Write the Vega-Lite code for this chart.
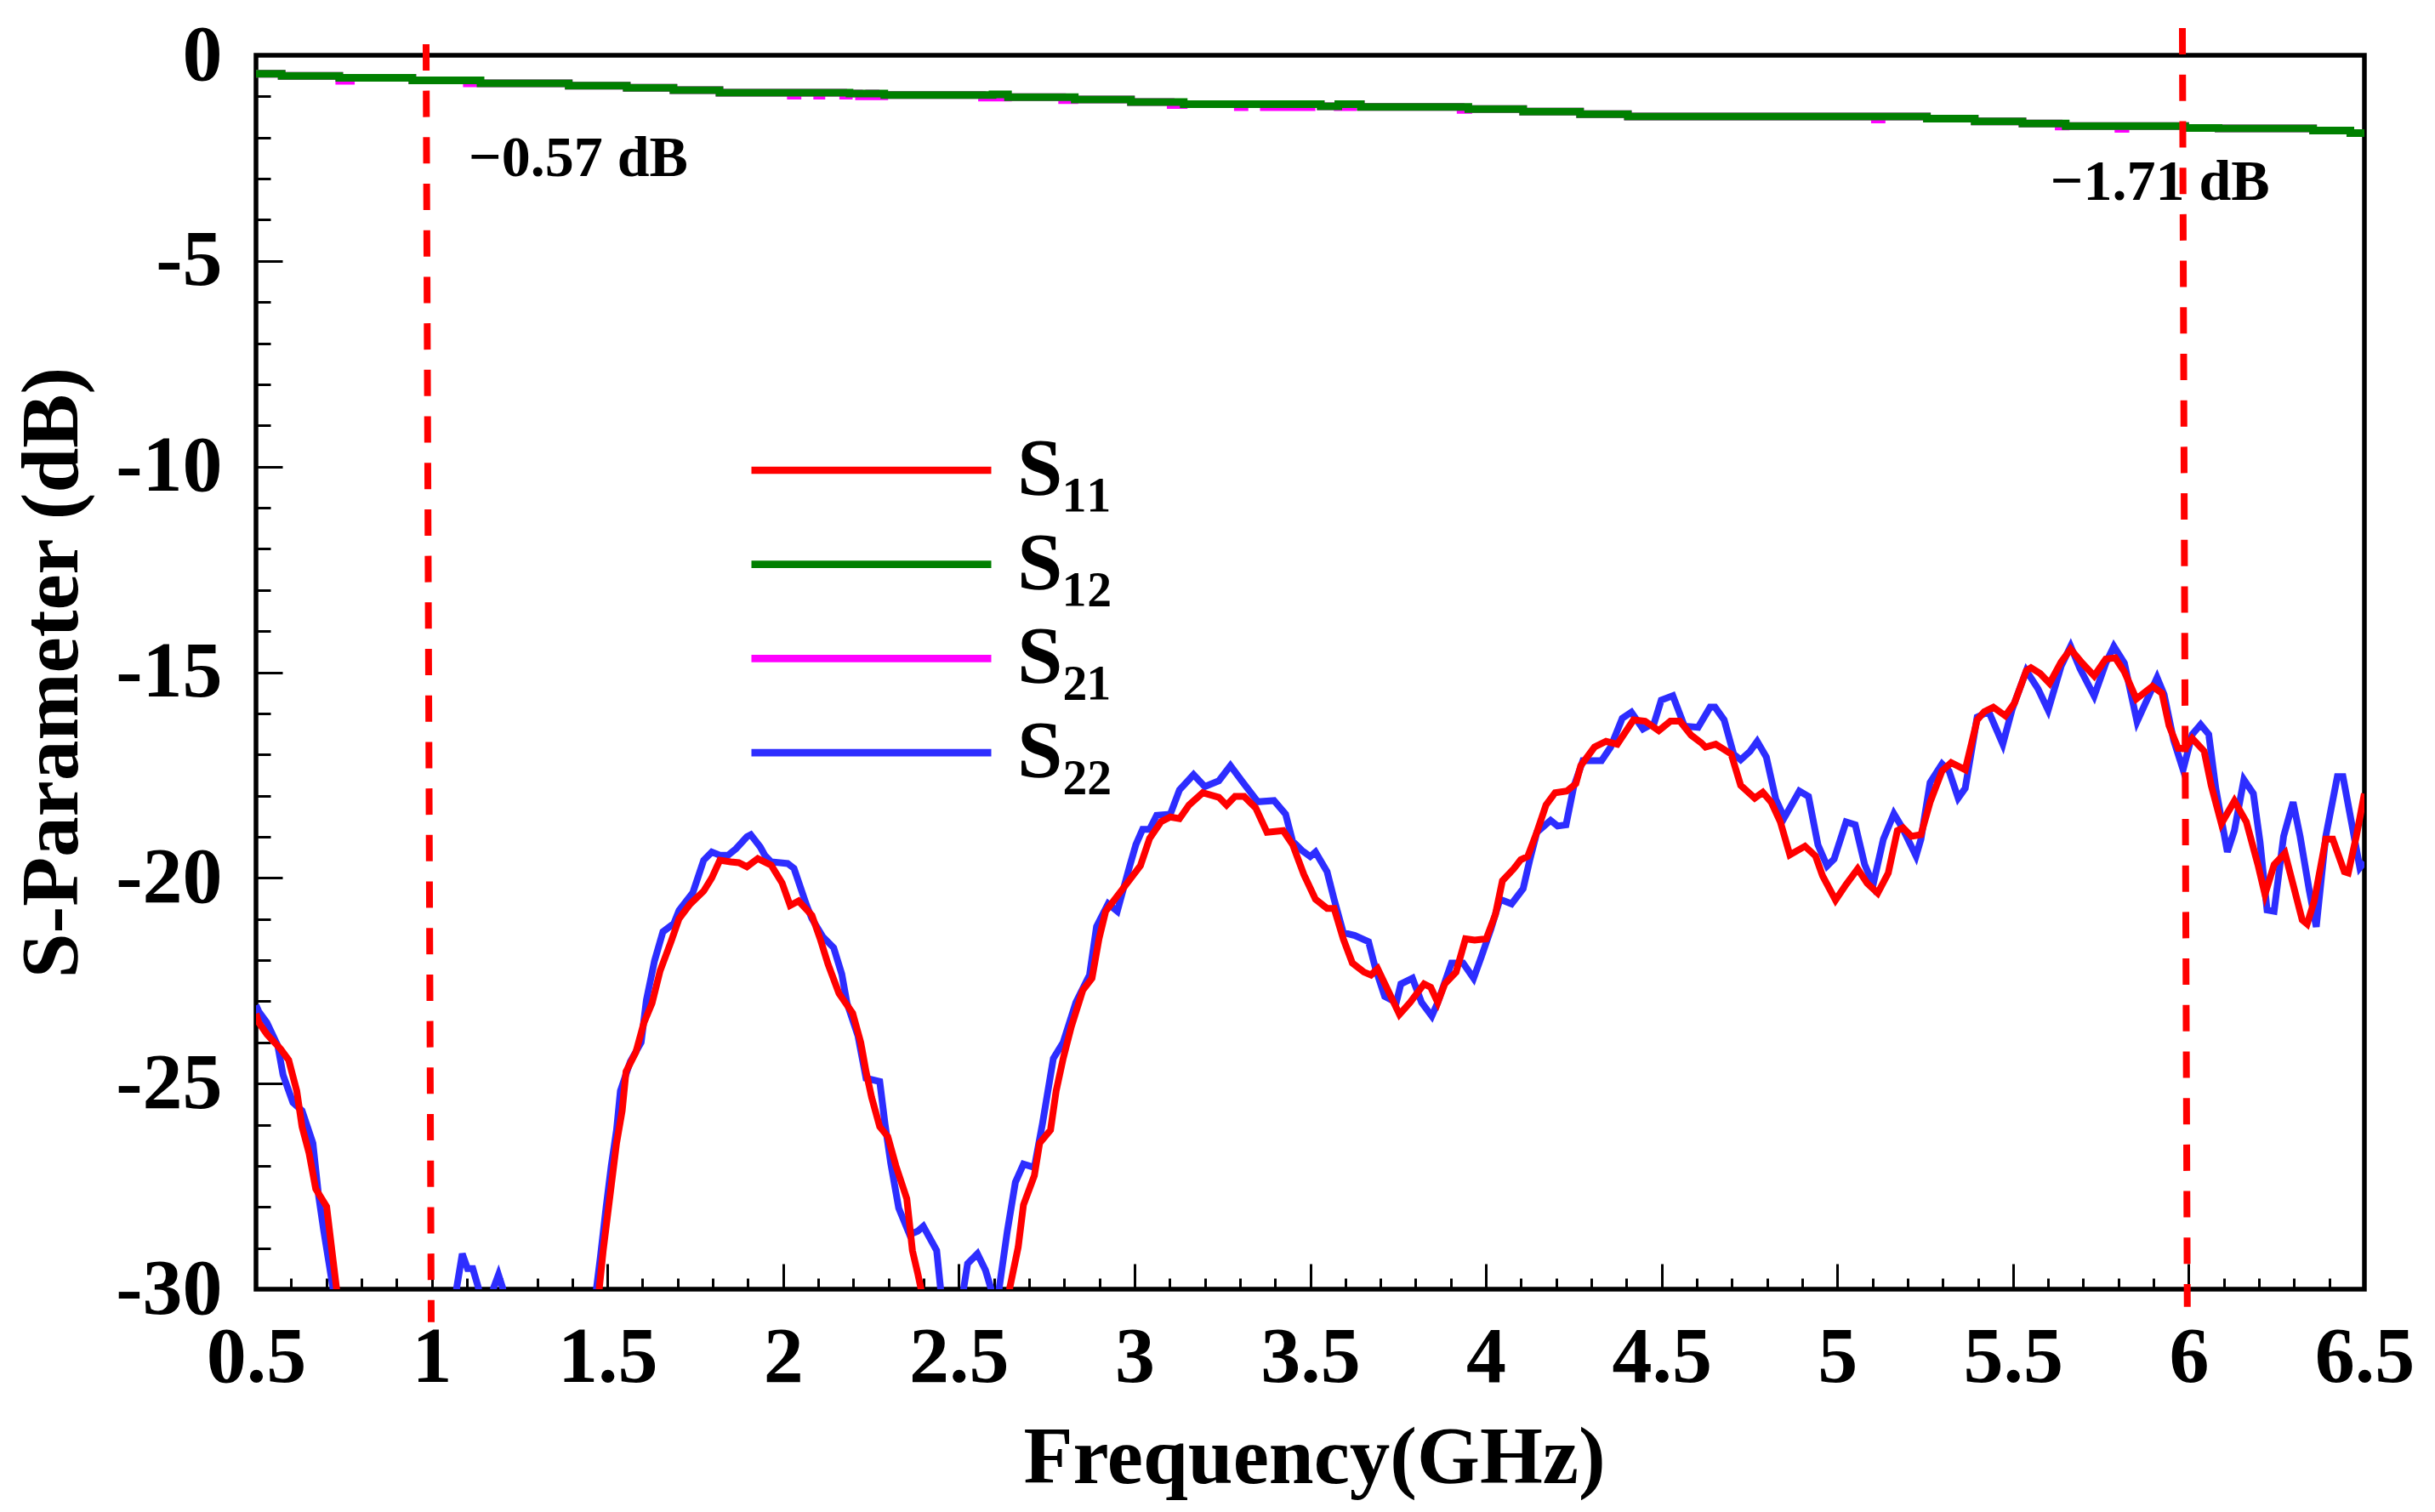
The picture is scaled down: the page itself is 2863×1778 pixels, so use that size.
{
  "$schema": "https://vega.github.io/schema/vega-lite/v6.json",
  "description": "S-parameters against frequency with markers at 1 GHz and 6 GHz.",
  "width": 2479,
  "height": 1451,
  "autosize": {"type": "none"},
  "padding": {"left": 301, "top": 65, "right": 83, "bottom": 262},
  "background": "white",
  "datasets": {
    "steps": [
      {"series":"S₂₁","f":0.5,"db":-0.45},{"series":"S₂₁","f":0.573,"db":-0.5},{"series":"S₂₁","f":0.737,"db":-0.62},{"series":"S₂₁","f":0.77,"db":-0.55},{"series":"S₂₁","f":0.945,"db":-0.61},{"series":"S₂₁","f":1.1,"db":-0.68},{"series":"S₂₁","f":1.39,"db":-0.74},{"series":"S₂₁","f":1.555,"db":-0.79},{"series":"S₂₁","f":1.688,"db":-0.85},{"series":"S₂₁","f":1.819,"db":-0.91},{"series":"S₂₁","f":2.022,"db":-0.98},{"series":"S₂₁","f":2.041,"db":-0.91},{"series":"S₂₁","f":2.097,"db":-0.98},{"series":"S₂₁","f":2.109,"db":-0.91},{"series":"S₂₁","f":2.171,"db":-0.98},{"series":"S₂₁","f":2.187,"db":-0.93},{"series":"S₂₁","f":2.216,"db":-1.0},{"series":"S₂₁","f":2.245,"db":-0.93},{"series":"S₂₁","f":2.263,"db":-1.0},{"series":"S₂₁","f":2.288,"db":-0.965},{"series":"S₂₁","f":2.566,"db":-1.03},{"series":"S₂₁","f":2.64,"db":-1.02},{"series":"S₂₁","f":2.794,"db":-1.09},{"series":"S₂₁","f":2.829,"db":-1.075},{"series":"S₂₁","f":2.99,"db":-1.137},{"series":"S₂₁","f":3.103,"db":-1.21},{"series":"S₂₁","f":3.14,"db":-1.19},{"series":"S₂₁","f":3.294,"db":-1.26},{"series":"S₂₁","f":3.313,"db":-1.19},{"series":"S₂₁","f":3.368,"db":-1.26},{"series":"S₂₁","f":3.387,"db":-1.19},{"series":"S₂₁","f":3.405,"db":-1.26},{"series":"S₂₁","f":3.504,"db":-1.19},{"series":"S₂₁","f":3.53,"db":-1.24},{"series":"S₂₁","f":3.578,"db":-1.26},{"series":"S₂₁","f":3.621,"db":-1.19},{"series":"S₂₁","f":3.644,"db":-1.255},{"series":"S₂₁","f":3.928,"db":-1.33},{"series":"S₂₁","f":3.95,"db":-1.31},{"series":"S₂₁","f":4.106,"db":-1.37},{"series":"S₂₁","f":4.268,"db":-1.43},{"series":"S₂₁","f":4.404,"db":-1.49},{"series":"S₂₁","f":5.107,"db":-1.56},{"series":"S₂₁","f":5.126,"db":-1.49},{"series":"S₂₁","f":5.255,"db":-1.54},{"series":"S₂₁","f":5.391,"db":-1.61},{"series":"S₂₁","f":5.527,"db":-1.66},{"series":"S₂₁","f":5.63,"db":-1.73},{"series":"S₂₁","f":5.65,"db":-1.72},{"series":"S₂₁","f":5.8,"db":-1.79},{"series":"S₂₁","f":5.82,"db":-1.72},{"series":"S₂₁","f":5.99,"db":-1.77},{"series":"S₂₁","f":6.085,"db":-1.78},{"series":"S₂₁","f":6.354,"db":-1.83},{"series":"S₂₁","f":6.46,"db":-1.89},{"series":"S₂₁","f":6.5,"db":-1.89},
      {"series":"S₁₂","f":0.5,"db":-0.45},{"series":"S₁₂","f":0.573,"db":-0.5},{"series":"S₁₂","f":0.737,"db":-0.55},{"series":"S₁₂","f":0.945,"db":-0.61},{"series":"S₁₂","f":1.139,"db":-0.68},{"series":"S₁₂","f":1.39,"db":-0.74},{"series":"S₁₂","f":1.555,"db":-0.79},{"series":"S₁₂","f":1.688,"db":-0.85},{"series":"S₁₂","f":1.819,"db":-0.91},{"series":"S₁₂","f":2.189,"db":-0.93},{"series":"S₁₂","f":2.288,"db":-0.965},{"series":"S₁₂","f":2.596,"db":-0.95},{"series":"S₁₂","f":2.64,"db":-1.02},{"series":"S₁₂","f":2.83,"db":-1.075},{"series":"S₁₂","f":2.99,"db":-1.137},{"series":"S₁₂","f":3.14,"db":-1.19},{"series":"S₁₂","f":3.53,"db":-1.24},{"series":"S₁₂","f":3.58,"db":-1.19},{"series":"S₁₂","f":3.644,"db":-1.255},{"series":"S₁₂","f":3.95,"db":-1.31},{"series":"S₁₂","f":4.106,"db":-1.37},{"series":"S₁₂","f":4.268,"db":-1.43},{"series":"S₁₂","f":4.404,"db":-1.49},{"series":"S₁₂","f":5.255,"db":-1.54},{"series":"S₁₂","f":5.391,"db":-1.61},{"series":"S₁₂","f":5.527,"db":-1.66},{"series":"S₁₂","f":5.65,"db":-1.72},{"series":"S₁₂","f":5.99,"db":-1.77},{"series":"S₁₂","f":6.085,"db":-1.78},{"series":"S₁₂","f":6.354,"db":-1.83},{"series":"S₁₂","f":6.46,"db":-1.89},{"series":"S₁₂","f":6.5,"db":-1.89}
    ],
    "curves": [
      {"series":"S₂₂","f":0.5,"db":-23.1},{"series":"S₂₂","f":0.508,"db":-23.25},{"series":"S₂₂","f":0.531,"db":-23.52},{"series":"S₂₂","f":0.562,"db":-24.08},{"series":"S₂₂","f":0.577,"db":-24.79},{"series":"S₂₂","f":0.605,"db":-25.46},{"series":"S₂₂","f":0.631,"db":-25.66},{"series":"S₂₂","f":0.662,"db":-26.45},{"series":"S₂₂","f":0.678,"db":-27.72},{"series":"S₂₂","f":0.693,"db":-28.59},{"series":"S₂₂","f":0.708,"db":-29.38},{"series":"S₂₂","f":0.719,"db":-29.97},{"series":"S₂₂","f":0.74,"db":-33},{"series":"S₂₂","f":1.05,"db":-33},
      {"series":"S₂₂","f":1.071,"db":-29.97},{"series":"S₂₂","f":1.087,"db":-29.14},{"series":"S₂₂","f":1.102,"db":-29.5},{"series":"S₂₂","f":1.117,"db":-29.5},{"series":"S₂₂","f":1.133,"db":-29.97},{"series":"S₂₂","f":1.14,"db":-31},{"series":"S₂₂","f":1.17,"db":-31},{"series":"S₂₂","f":1.176,"db":-29.97},{"series":"S₂₂","f":1.19,"db":-29.65},{"series":"S₂₂","f":1.202,"db":-29.97},{"series":"S₂₂","f":1.22,"db":-33},{"series":"S₂₂","f":1.45,"db":-33},
      {"series":"S₂₂","f":1.469,"db":-29.97},{"series":"S₂₂","f":1.48,"db":-29.22},{"series":"S₂₂","f":1.496,"db":-28.03},{"series":"S₂₂","f":1.511,"db":-27.0},{"series":"S₂₂","f":1.526,"db":-26.13},{"series":"S₂₂","f":1.537,"db":-25.18},{"series":"S₂₂","f":1.565,"db":-24.47},{"series":"S₂₂","f":1.596,"db":-24.0},{"series":"S₂₂","f":1.611,"db":-22.97},{"series":"S₂₂","f":1.634,"db":-22.02},{"series":"S₂₂","f":1.658,"db":-21.31},{"series":"S₂₂","f":1.689,"db":-21.11},{"series":"S₂₂","f":1.704,"db":-20.79},{"series":"S₂₂","f":1.743,"db":-20.36},{"series":"S₂₂","f":1.774,"db":-19.57},{"series":"S₂₂","f":1.797,"db":-19.37},{"series":"S₂₂","f":1.82,"db":-19.45},{"series":"S₂₂","f":1.843,"db":-19.45},{"series":"S₂₂","f":1.866,"db":-19.29},{"series":"S₂₂","f":1.897,"db":-19.0},{"series":"S₂₂","f":1.908,"db":-18.95},{"series":"S₂₂","f":1.935,"db":-19.25},{"series":"S₂₂","f":1.948,"db":-19.45},{"series":"S₂₂","f":1.966,"db":-19.61},{"series":"S₂₂","f":2.013,"db":-19.65},{"series":"S₂₂","f":2.031,"db":-19.77},{"series":"S₂₂","f":2.067,"db":-20.67},{"series":"S₂₂","f":2.082,"db":-20.99},{"series":"S₂₂","f":2.113,"db":-21.43},{"series":"S₂₂","f":2.144,"db":-21.7},{"series":"S₂₂","f":2.167,"db":-22.34},{"series":"S₂₂","f":2.182,"db":-23.05},{"series":"S₂₂","f":2.213,"db":-23.84},{"series":"S₂₂","f":2.236,"db":-24.87},{"series":"S₂₂","f":2.275,"db":-24.95},{"series":"S₂₂","f":2.29,"db":-25.98},{"series":"S₂₂","f":2.306,"db":-26.92},{"series":"S₂₂","f":2.329,"db":-28.03},{"series":"S₂₂","f":2.36,"db":-28.67},{"series":"S₂₂","f":2.383,"db":-28.59},{"series":"S₂₂","f":2.399,"db":-28.47},{"series":"S₂₂","f":2.437,"db":-29.06},{"series":"S₂₂","f":2.448,"db":-29.97},{"series":"S₂₂","f":2.46,"db":-33},{"series":"S₂₂","f":2.5,"db":-33},
      {"series":"S₂₂","f":2.514,"db":-29.97},{"series":"S₂₂","f":2.525,"db":-29.38},{"series":"S₂₂","f":2.553,"db":-29.14},{"series":"S₂₂","f":2.576,"db":-29.54},{"series":"S₂₂","f":2.591,"db":-29.97},{"series":"S₂₂","f":2.6,"db":-31},{"series":"S₂₂","f":2.61,"db":-31},{"series":"S₂₂","f":2.615,"db":-29.97},{"series":"S₂₂","f":2.638,"db":-28.59},{"series":"S₂₂","f":2.661,"db":-27.4},{"series":"S₂₂","f":2.684,"db":-26.96},{"series":"S₂₂","f":2.715,"db":-27.04},{"series":"S₂₂","f":2.738,"db":-25.98},{"series":"S₂₂","f":2.769,"db":-24.39},{"series":"S₂₂","f":2.797,"db":-24.0},{"series":"S₂₂","f":2.833,"db":-23.03},{"series":"S₂₂","f":2.872,"db":-22.36},{"series":"S₂₂","f":2.892,"db":-21.18},{"series":"S₂₂","f":2.925,"db":-20.63},{"series":"S₂₂","f":2.951,"db":-20.81},{"series":"S₂₂","f":2.984,"db":-19.78},{"series":"S₂₂","f":3.004,"db":-19.19},{"series":"S₂₂","f":3.023,"db":-18.82},{"series":"S₂₂","f":3.043,"db":-18.82},{"series":"S₂₂","f":3.063,"db":-18.48},{"series":"S₂₂","f":3.102,"db":-18.45},{"series":"S₂₂","f":3.128,"db":-17.86},{"series":"S₂₂","f":3.168,"db":-17.49},{"series":"S₂₂","f":3.2,"db":-17.78},{"series":"S₂₂","f":3.24,"db":-17.64},{"series":"S₂₂","f":3.273,"db":-17.27},{"series":"S₂₂","f":3.305,"db":-17.64},{"series":"S₂₂","f":3.351,"db":-18.15},{"series":"S₂₂","f":3.397,"db":-18.12},{"series":"S₂₂","f":3.43,"db":-18.45},{"series":"S₂₂","f":3.45,"db":-19.11},{"series":"S₂₂","f":3.476,"db":-19.33},{"series":"S₂₂","f":3.5,"db":-19.48},{"series":"S₂₂","f":3.515,"db":-19.37},{"series":"S₂₂","f":3.548,"db":-19.85},{"series":"S₂₂","f":3.568,"db":-20.52},{"series":"S₂₂","f":3.594,"db":-21.33},{"series":"S₂₂","f":3.627,"db":-21.4},{"series":"S₂₂","f":3.666,"db":-21.55},{"series":"S₂₂","f":3.686,"db":-22.21},{"series":"S₂₂","f":3.712,"db":-22.88},{"series":"S₂₂","f":3.745,"db":-23.03},{"series":"S₂₂","f":3.758,"db":-22.58},{"series":"S₂₂","f":3.791,"db":-22.44},{"series":"S₂₂","f":3.817,"db":-23.03},{"series":"S₂₂","f":3.846,"db":-23.36},{"series":"S₂₂","f":3.863,"db":-23.03},{"series":"S₂₂","f":3.902,"db":-22.07},{"series":"S₂₂","f":3.935,"db":-22.07},{"series":"S₂₂","f":3.965,"db":-22.44},{"series":"S₂₂","f":3.987,"db":-21.92},{"series":"S₂₂","f":4.014,"db":-21.25},{"series":"S₂₂","f":4.04,"db":-20.52},{"series":"S₂₂","f":4.073,"db":-20.63},{"series":"S₂₂","f":4.106,"db":-20.26},{"series":"S₂₂","f":4.125,"db":-19.56},{"series":"S₂₂","f":4.145,"db":-18.89},{"series":"S₂₂","f":4.184,"db":-18.6},{"series":"S₂₂","f":4.204,"db":-18.74},{"series":"S₂₂","f":4.228,"db":-18.71},{"series":"S₂₂","f":4.25,"db":-17.78},{"series":"S₂₂","f":4.276,"db":-17.15},{"series":"S₂₂","f":4.329,"db":-17.15},{"series":"S₂₂","f":4.355,"db":-16.82},{"series":"S₂₂","f":4.388,"db":-16.12},{"series":"S₂₂","f":4.414,"db":-15.97},{"series":"S₂₂","f":4.447,"db":-16.38},{"series":"S₂₂","f":4.479,"db":-16.23},{"series":"S₂₂","f":4.499,"db":-15.68},{"series":"S₂₂","f":4.532,"db":-15.57},{"series":"S₂₂","f":4.565,"db":-16.31},{"series":"S₂₂","f":4.604,"db":-16.34},{"series":"S₂₂","f":4.638,"db":-15.85},{"series":"S₂₂","f":4.652,"db":-15.85},{"series":"S₂₂","f":4.678,"db":-16.16},{"series":"S₂₂","f":4.705,"db":-16.99},{"series":"S₂₂","f":4.725,"db":-17.13},{"series":"S₂₂","f":4.752,"db":-16.92},{"series":"S₂₂","f":4.772,"db":-16.68},{"series":"S₂₂","f":4.798,"db":-17.06},{"series":"S₂₂","f":4.825,"db":-18.09},{"series":"S₂₂","f":4.849,"db":-18.54},{"series":"S₂₂","f":4.892,"db":-17.89},{"series":"S₂₂","f":4.918,"db":-18.02},{"series":"S₂₂","f":4.945,"db":-19.2},{"series":"S₂₂","f":4.971,"db":-19.71},{"series":"S₂₂","f":4.991,"db":-19.54},{"series":"S₂₂","f":5.025,"db":-18.64},{"series":"S₂₂","f":5.051,"db":-18.71},{"series":"S₂₂","f":5.078,"db":-19.68},{"series":"S₂₂","f":5.102,"db":-20.16},{"series":"S₂₂","f":5.131,"db":-19.06},{"series":"S₂₂","f":5.161,"db":-18.44},{"series":"S₂₂","f":5.185,"db":-18.78},{"series":"S₂₂","f":5.224,"db":-19.47},{"series":"S₂₂","f":5.238,"db":-19.06},{"series":"S₂₂","f":5.264,"db":-17.68},{"series":"S₂₂","f":5.298,"db":-17.23},{"series":"S₂₂","f":5.318,"db":-17.4},{"series":"S₂₂","f":5.344,"db":-18.06},{"series":"S₂₂","f":5.364,"db":-17.82},{"series":"S₂₂","f":5.398,"db":-16.09},{"series":"S₂₂","f":5.431,"db":-15.96},{"series":"S₂₂","f":5.471,"db":-16.75},{"series":"S₂₂","f":5.498,"db":-15.89},{"series":"S₂₂","f":5.538,"db":-14.96},{"series":"S₂₂","f":5.571,"db":-15.4},{"series":"S₂₂","f":5.6,"db":-15.92},{"series":"S₂₂","f":5.637,"db":-14.85},{"series":"S₂₂","f":5.664,"db":-14.37},{"series":"S₂₂","f":5.691,"db":-14.92},{"series":"S₂₂","f":5.731,"db":-15.58},{"series":"S₂₂","f":5.764,"db":-14.78},{"series":"S₂₂","f":5.787,"db":-14.37},{"series":"S₂₂","f":5.817,"db":-14.78},{"series":"S₂₂","f":5.853,"db":-16.2},{"series":"S₂₂","f":5.91,"db":-15.13},{"series":"S₂₂","f":5.93,"db":-15.54},{"series":"S₂₂","f":5.957,"db":-16.65},{"series":"S₂₂","f":5.984,"db":-17.37},{"series":"S₂₂","f":6.01,"db":-16.51},{"series":"S₂₂","f":6.034,"db":-16.27},{"series":"S₂₂","f":6.057,"db":-16.51},{"series":"S₂₂","f":6.077,"db":-17.82},{"series":"S₂₂","f":6.11,"db":-19.37},{"series":"S₂₂","f":6.13,"db":-18.85},{"series":"S₂₂","f":6.157,"db":-17.61},{"series":"S₂₂","f":6.184,"db":-17.95},{"series":"S₂₂","f":6.203,"db":-19.13},{"series":"S₂₂","f":6.223,"db":-20.78},{"series":"S₂₂","f":6.243,"db":-20.81},{"series":"S₂₂","f":6.27,"db":-18.99},{"series":"S₂₂","f":6.297,"db":-18.16},{"series":"S₂₂","f":6.317,"db":-18.99},{"series":"S₂₂","f":6.343,"db":-20.3},{"series":"S₂₂","f":6.363,"db":-21.19},{"series":"S₂₂","f":6.39,"db":-18.99},{"series":"S₂₂","f":6.423,"db":-17.54},{"series":"S₂₂","f":6.439,"db":-17.54},{"series":"S₂₂","f":6.463,"db":-18.64},{"series":"S₂₂","f":6.487,"db":-19.75},{"series":"S₂₂","f":6.5,"db":-19.61},
      {"series":"S₁₁","f":0.5,"db":-23.3},{"series":"S₁₁","f":0.508,"db":-23.52},{"series":"S₁₁","f":0.531,"db":-23.8},{"series":"S₁₁","f":0.57,"db":-24.16},{"series":"S₁₁","f":0.593,"db":-24.43},{"series":"S₁₁","f":0.616,"db":-25.18},{"series":"S₁₁","f":0.631,"db":-26.05},{"series":"S₁₁","f":0.651,"db":-26.69},{"series":"S₁₁","f":0.67,"db":-27.56},{"series":"S₁₁","f":0.701,"db":-27.99},{"series":"S₁₁","f":0.716,"db":-29.06},{"series":"S₁₁","f":0.729,"db":-29.97},{"series":"S₁₁","f":0.75,"db":-33},{"series":"S₁₁","f":1.46,"db":-33},
      {"series":"S₁₁","f":1.477,"db":-29.97},{"series":"S₁₁","f":1.488,"db":-29.06},{"series":"S₁₁","f":1.511,"db":-27.48},{"series":"S₁₁","f":1.526,"db":-26.45},{"series":"S₁₁","f":1.542,"db":-25.66},{"series":"S₁₁","f":1.553,"db":-24.71},{"series":"S₁₁","f":1.581,"db":-24.24},{"series":"S₁₁","f":1.604,"db":-23.52},{"series":"S₁₁","f":1.627,"db":-23.05},{"series":"S₁₁","f":1.65,"db":-22.26},{"series":"S₁₁","f":1.681,"db":-21.55},{"series":"S₁₁","f":1.704,"db":-20.99},{"series":"S₁₁","f":1.735,"db":-20.64},{"series":"S₁₁","f":1.774,"db":-20.32},{"series":"S₁₁","f":1.797,"db":-20.0},{"series":"S₁₁","f":1.82,"db":-19.57},{"series":"S₁₁","f":1.851,"db":-19.61},{"series":"S₁₁","f":1.874,"db":-19.63},{"series":"S₁₁","f":1.897,"db":-19.73},{"series":"S₁₁","f":1.928,"db":-19.53},{"series":"S₁₁","f":1.966,"db":-19.69},{"series":"S₁₁","f":1.997,"db":-20.12},{"series":"S₁₁","f":2.02,"db":-20.67},{"series":"S₁₁","f":2.044,"db":-20.56},{"series":"S₁₁","f":2.082,"db":-20.91},{"series":"S₁₁","f":2.105,"db":-21.47},{"series":"S₁₁","f":2.128,"db":-22.1},{"series":"S₁₁","f":2.159,"db":-22.81},{"series":"S₁₁","f":2.198,"db":-23.29},{"series":"S₁₁","f":2.221,"db":-24.0},{"series":"S₁₁","f":2.236,"db":-24.71},{"series":"S₁₁","f":2.252,"db":-25.34},{"series":"S₁₁","f":2.275,"db":-26.05},{"series":"S₁₁","f":2.298,"db":-26.29},{"series":"S₁₁","f":2.321,"db":-27.0},{"series":"S₁₁","f":2.352,"db":-27.8},{"series":"S₁₁","f":2.368,"db":-29.06},{"series":"S₁₁","f":2.383,"db":-29.61},{"series":"S₁₁","f":2.392,"db":-29.97},{"series":"S₁₁","f":2.41,"db":-33},{"series":"S₁₁","f":2.63,"db":-33},
      {"series":"S₁₁","f":2.645,"db":-29.97},{"series":"S₁₁","f":2.669,"db":-28.98},{"series":"S₁₁","f":2.684,"db":-27.95},{"series":"S₁₁","f":2.715,"db":-27.24},{"series":"S₁₁","f":2.73,"db":-26.45},{"series":"S₁₁","f":2.761,"db":-26.13},{"series":"S₁₁","f":2.777,"db":-25.18},{"series":"S₁₁","f":2.797,"db":-24.39},{"series":"S₁₁","f":2.82,"db":-23.62},{"series":"S₁₁","f":2.853,"db":-22.73},{"series":"S₁₁","f":2.879,"db":-22.44},{"series":"S₁₁","f":2.899,"db":-21.48},{"series":"S₁₁","f":2.918,"db":-20.81},{"series":"S₁₁","f":2.951,"db":-20.44},{"series":"S₁₁","f":2.977,"db":-20.15},{"series":"S₁₁","f":3.017,"db":-19.7},{"series":"S₁₁","f":3.043,"db":-19.04},{"series":"S₁₁","f":3.076,"db":-18.63},{"series":"S₁₁","f":3.102,"db":-18.52},{"series":"S₁₁","f":3.128,"db":-18.56},{"series":"S₁₁","f":3.155,"db":-18.23},{"series":"S₁₁","f":3.194,"db":-17.93},{"series":"S₁₁","f":3.24,"db":-18.04},{"series":"S₁₁","f":3.262,"db":-18.23},{"series":"S₁₁","f":3.286,"db":-18.02},{"series":"S₁₁","f":3.312,"db":-18.02},{"series":"S₁₁","f":3.345,"db":-18.3},{"series":"S₁₁","f":3.377,"db":-18.89},{"series":"S₁₁","f":3.423,"db":-18.85},{"series":"S₁₁","f":3.45,"db":-19.19},{"series":"S₁₁","f":3.482,"db":-19.92},{"series":"S₁₁","f":3.515,"db":-20.52},{"series":"S₁₁","f":3.548,"db":-20.74},{"series":"S₁₁","f":3.568,"db":-20.74},{"series":"S₁₁","f":3.594,"db":-21.48},{"series":"S₁₁","f":3.62,"db":-22.07},{"series":"S₁₁","f":3.653,"db":-22.29},{"series":"S₁₁","f":3.673,"db":-22.36},{"series":"S₁₁","f":3.692,"db":-22.21},{"series":"S₁₁","f":3.725,"db":-22.8},{"series":"S₁₁","f":3.754,"db":-23.32},{"series":"S₁₁","f":3.784,"db":-23.03},{"series":"S₁₁","f":3.824,"db":-22.58},{"series":"S₁₁","f":3.843,"db":-22.66},{"series":"S₁₁","f":3.863,"db":-23.03},{"series":"S₁₁","f":3.883,"db":-22.58},{"series":"S₁₁","f":3.915,"db":-22.29},{"series":"S₁₁","f":3.942,"db":-21.48},{"series":"S₁₁","f":3.968,"db":-21.51},{"series":"S₁₁","f":4.001,"db":-21.48},{"series":"S₁₁","f":4.027,"db":-20.89},{"series":"S₁₁","f":4.047,"db":-20.07},{"series":"S₁₁","f":4.079,"db":-19.78},{"series":"S₁₁","f":4.099,"db":-19.56},{"series":"S₁₁","f":4.119,"db":-19.48},{"series":"S₁₁","f":4.145,"db":-18.89},{"series":"S₁₁","f":4.171,"db":-18.23},{"series":"S₁₁","f":4.197,"db":-17.93},{"series":"S₁₁","f":4.23,"db":-17.89},{"series":"S₁₁","f":4.256,"db":-17.71},{"series":"S₁₁","f":4.27,"db":-17.27},{"series":"S₁₁","f":4.309,"db":-16.82},{"series":"S₁₁","f":4.342,"db":-16.68},{"series":"S₁₁","f":4.374,"db":-16.75},{"series":"S₁₁","f":4.42,"db":-16.16},{"series":"S₁₁","f":4.453,"db":-16.19},{"series":"S₁₁","f":4.492,"db":-16.42},{"series":"S₁₁","f":4.525,"db":-16.19},{"series":"S₁₁","f":4.552,"db":-16.19},{"series":"S₁₁","f":4.584,"db":-16.53},{"series":"S₁₁","f":4.612,"db":-16.71},{"series":"S₁₁","f":4.625,"db":-16.82},{"series":"S₁₁","f":4.654,"db":-16.75},{"series":"S₁₁","f":4.698,"db":-16.99},{"series":"S₁₁","f":4.725,"db":-17.75},{"series":"S₁₁","f":4.765,"db":-18.06},{"series":"S₁₁","f":4.788,"db":-17.92},{"series":"S₁₁","f":4.812,"db":-18.16},{"series":"S₁₁","f":4.838,"db":-18.64},{"series":"S₁₁","f":4.865,"db":-19.44},{"series":"S₁₁","f":4.908,"db":-19.23},{"series":"S₁₁","f":4.938,"db":-19.47},{"series":"S₁₁","f":4.958,"db":-19.95},{"series":"S₁₁","f":4.995,"db":-20.54},{"series":"S₁₁","f":5.025,"db":-20.16},{"series":"S₁₁","f":5.058,"db":-19.78},{"series":"S₁₁","f":5.085,"db":-20.13},{"series":"S₁₁","f":5.115,"db":-20.37},{"series":"S₁₁","f":5.145,"db":-19.88},{"series":"S₁₁","f":5.171,"db":-18.85},{"series":"S₁₁","f":5.187,"db":-18.78},{"series":"S₁₁","f":5.211,"db":-18.99},{"series":"S₁₁","f":5.238,"db":-18.95},{"series":"S₁₁","f":5.264,"db":-18.16},{"series":"S₁₁","f":5.298,"db":-17.4},{"series":"S₁₁","f":5.324,"db":-17.2},{"series":"S₁₁","f":5.364,"db":-17.37},{"series":"S₁₁","f":5.398,"db":-16.16},{"series":"S₁₁","f":5.418,"db":-15.96},{"series":"S₁₁","f":5.444,"db":-15.85},{"series":"S₁₁","f":5.478,"db":-16.06},{"series":"S₁₁","f":5.504,"db":-15.75},{"series":"S₁₁","f":5.538,"db":-14.96},{"series":"S₁₁","f":5.551,"db":-14.89},{"series":"S₁₁","f":5.577,"db":-15.03},{"series":"S₁₁","f":5.604,"db":-15.27},{"series":"S₁₁","f":5.637,"db":-14.75},{"series":"S₁₁","f":5.664,"db":-14.44},{"series":"S₁₁","f":5.697,"db":-14.78},{"series":"S₁₁","f":5.731,"db":-15.09},{"series":"S₁₁","f":5.764,"db":-14.68},{"series":"S₁₁","f":5.791,"db":-14.65},{"series":"S₁₁","f":5.817,"db":-14.99},{"series":"S₁₁","f":5.851,"db":-15.65},{"series":"S₁₁","f":5.897,"db":-15.34},{"series":"S₁₁","f":5.924,"db":-15.51},{"series":"S₁₁","f":5.944,"db":-16.3},{"series":"S₁₁","f":5.97,"db":-16.85},{"series":"S₁₁","f":5.99,"db":-16.85},{"series":"S₁₁","f":6.01,"db":-16.61},{"series":"S₁₁","f":6.044,"db":-16.92},{"series":"S₁₁","f":6.064,"db":-17.75},{"series":"S₁₁","f":6.093,"db":-18.68},{"series":"S₁₁","f":6.13,"db":-18.13},{"series":"S₁₁","f":6.164,"db":-18.64},{"series":"S₁₁","f":6.197,"db":-19.68},{"series":"S₁₁","f":6.217,"db":-20.4},{"series":"S₁₁","f":6.243,"db":-19.68},{"series":"S₁₁","f":6.274,"db":-19.4},{"series":"S₁₁","f":6.297,"db":-20.16},{"series":"S₁₁","f":6.323,"db":-21.02},{"series":"S₁₁","f":6.337,"db":-21.12},{"series":"S₁₁","f":6.357,"db":-20.57},{"series":"S₁₁","f":6.39,"db":-19.06},{"series":"S₁₁","f":6.41,"db":-19.06},{"series":"S₁₁","f":6.443,"db":-19.85},{"series":"S₁₁","f":6.454,"db":-19.88},{"series":"S₁₁","f":6.477,"db":-18.99},{"series":"S₁₁","f":6.5,"db":-17.95}
    ],
    "markers": [
      {"f0":0.984,"f1":0.9986,"db0":0.27,"db1":-30.8},
      {"f0":5.982,"f1":5.996,"db0":0.66,"db1":-30.43}
    ],
    "notes": [
      {"f":1.105,"db":-2.936,"label":"−0.57 dB"},
      {"f":5.606,"db":-3.515,"label":"−1.71 dB"}
    ]
  },
  "layer": [
    {
      "data": {"name": "steps"},
      "mark": {"type": "line", "interpolate": "step-after", "strokeWidth": 9, "clip": true},
      "encoding": {
        "x": {
          "field": "f", "type": "quantitative",
          "scale": {"domain": [0.5, 6.5], "nice": false, "zero": false},
          "axis": {
            "orient": "bottom",
            "title": "Frequency(GHz)",
            "titleX": 1244,
            "values": [0.5, 1, 1.5, 2, 2.5, 3, 3.5, 4, 4.5, 5, 5.5, 6, 6.5],
            "labelExpr": "'' + datum.value",
            "labelFlush": false,
            "tickSize": -30,
            "labelPadding": 64,
            "titlePadding": 25
          }
        },
        "y": {
          "field": "db", "type": "quantitative",
          "scale": {"domain": [-30, 0], "nice": false, "zero": false},
          "axis": {
            "orient": "left",
            "title": "S-Parameter (dB)",
            "values": [0, -5, -10, -15, -20, -25, -30],
            "labelExpr": "'' + datum.value",
            "labelFlush": false,
            "tickSize": -31,
            "labelPadding": 71,
            "titlePadding": 25
          }
        },
        "color": {
          "field": "series", "type": "nominal",
          "scale": {
            "domain": ["S₁₁", "S₁₂", "S₂₁", "S₂₂"],
            "range": ["#ff0000", "#008000", "#ff00ff", "#2d2dff"]
          },
          "legend": {
            "title": null,
            "orient": "none",
            "legendX": 578,
            "legendY": 433,
            "symbolType": "stroke",
            "symbolSize": 79524,
            "symbolStrokeWidth": 8.7,
            "clipHeight": 110,
            "labelFont": "Liberation Serif",
            "labelFontWeight": "bold",
            "labelFontSize": 96,
            "labelColor": "black",
            "labelOffset": 26,
            "rowPadding": 0.7,
            "encoding": {"labels": {"update": {"dy": {"value": -20}}}}
          }
        }
      }
    },
    {
      "data": {"name": "curves"},
      "mark": {"type": "line", "strokeWidth": 8, "clip": true},
      "encoding": {
        "x": {
          "field": "f", "type": "quantitative",
          "axis": {
            "orient": "bottom",
            "title": null,
            "labels": false,
            "values": [0.6, 0.7, 0.8, 0.9, 1.1, 1.2, 1.3, 1.4, 1.6, 1.7, 1.8, 1.9, 2.1, 2.2, 2.3, 2.4, 2.6, 2.7, 2.8, 2.9, 3.1, 3.2, 3.3, 3.4, 3.6, 3.7, 3.8, 3.9, 4.1, 4.2, 4.3, 4.4, 4.6, 4.7, 4.8, 4.9, 5.1, 5.2, 5.3, 5.4, 5.6, 5.7, 5.8, 5.9, 6.1, 6.2, 6.3, 6.4],
            "tickSize": -13
          }
        },
        "y": {
          "field": "db", "type": "quantitative",
          "axis": {
            "orient": "left",
            "title": null,
            "labels": false,
            "values": [-1, -2, -3, -4, -6, -7, -8, -9, -11, -12, -13, -14, -16, -17, -18, -19, -21, -22, -23, -24, -26, -27, -28, -29],
            "tickSize": -17
          }
        },
        "color": {"field": "series", "type": "nominal", "legend": null}
      }
    },
    {
      "data": {"name": "markers"},
      "mark": {"type": "rule", "color": "#ff0000", "strokeWidth": 8, "strokeDash": [31, 23.7], "clip": false},
      "encoding": {
        "x": {"field": "f0", "type": "quantitative", "axis": null},
        "x2": {"field": "f1"},
        "y": {"field": "db0", "type": "quantitative", "axis": null},
        "y2": {"field": "db1"}
      }
    },
    {
      "data": {"name": "notes"},
      "mark": {"type": "text", "align": "left", "baseline": "alphabetic", "font": "Liberation Serif", "fontWeight": "bold", "fontSize": 68, "color": "black"},
      "encoding": {
        "x": {"field": "f", "type": "quantitative", "axis": null},
        "y": {"field": "db", "type": "quantitative", "axis": null},
        "text": {"field": "label", "type": "nominal"}
      }
    }
  ],
  "resolve": {"axis": {"x": "independent", "y": "independent"}},
  "config": {
    "view": {"stroke": "black", "strokeWidth": 5.5},
    "axis": {
      "domain": false,
      "grid": false,
      "tickColor": "black",
      "tickWidth": 3,
      "labelFont": "Liberation Serif",
      "labelFontWeight": "bold",
      "labelFontSize": 94,
      "labelColor": "black",
      "labelOverlap": false,
      "titleFont": "Liberation Serif",
      "titleFontWeight": "bold",
      "titleFontSize": 95,
      "titleColor": "black"
    }
  }
}
